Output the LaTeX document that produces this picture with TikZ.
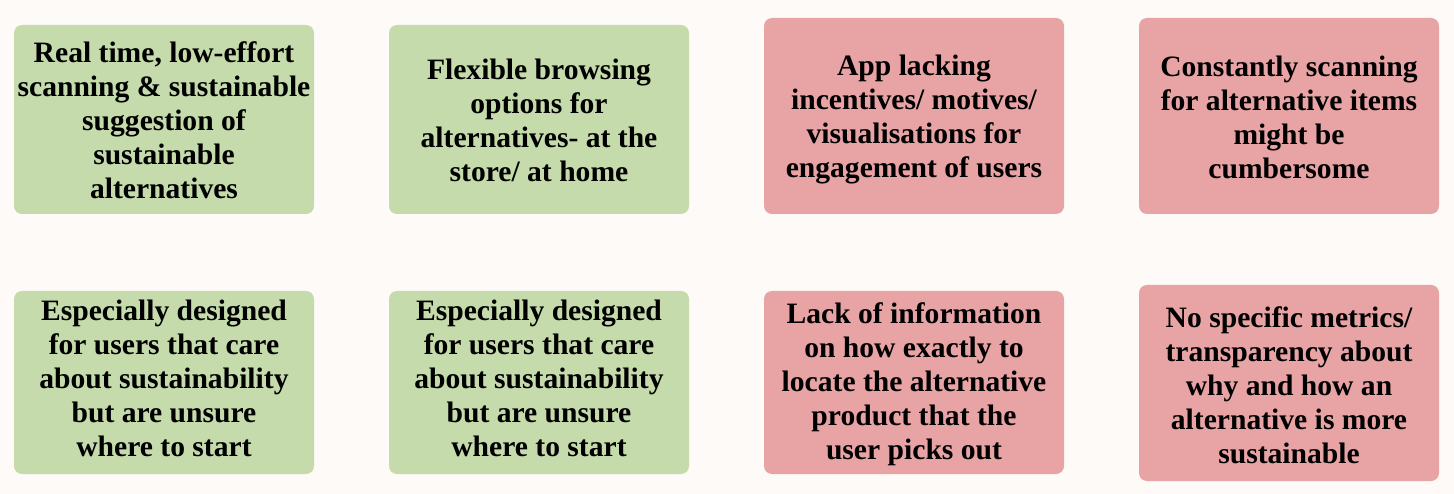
\documentclass[tikz,border=0pt]{standalone}
\usepackage{fontspec}
\setmainfont{Liberation Serif}
\definecolor{pagebg}{HTML}{FEFAF8}
\definecolor{prosfill}{HTML}{C5DBAB}
\definecolor{consfill}{HTML}{E8A3A5}
\tikzset{
  card/.style={rounded corners=8pt, inner sep=0pt, minimum width=300pt},
  pro/.style={card, fill=prosfill},
  con/.style={card, fill=consfill},
  cardtext/.style={inner sep=0pt, align=center, text=black,
    font=\fontsize{29.6}{34}\selectfont\bfseries},
}
\begin{document}
\begin{tikzpicture}[x=1pt, y=-1pt]
  \fill[pagebg] (0,0) rectangle (1454,494);
  % top row of cards
  \node[pro, minimum height=189pt] (p1) at (164,119.5) {};
  \node[pro, minimum height=189pt] (p2) at (539,119.5) {};
  \node[con, minimum height=196pt] (c1) at (914,116) {};
  \node[con, minimum height=196pt] (c2) at (1289,116) {};
  % bottom row of cards
  \node[pro, minimum height=183pt] (p3) at (164,382.5) {};
  \node[pro, minimum height=183pt] (p4) at (539,382.5) {};
  \node[con, minimum height=183pt] (c3) at (914,382.5) {};
  \node[con, minimum height=196pt] (c4) at (1289,383) {};
  % card texts
  \node[cardtext] (p1t) at ([yshift=-1pt]p1.center)
    {Real time, low-effort\\scanning \& sustainable\\suggestion of\\sustainable\\alternatives};
  \node[cardtext] (p2t) at ([yshift=-1pt]p2.center)
    {Flexible browsing\\options for\\alternatives- at the\\store/ at home};
  \node[cardtext] (c1t) at ([yshift=-3pt]c1.center)
    {App lacking\\incentives/ motives/\\visualisations for\\engagement of users};
  \node[cardtext] (c2t) at ([yshift=-1pt]c2.center)
    {Constantly scanning\\for alternative items\\might be\\cumbersome};
  \node[cardtext] (p3t) at ([yshift=4pt]p3.center)
    {Especially designed\\for users that care\\about sustainability\\but are unsure\\where to start};
  \node[cardtext] (p4t) at ([yshift=4pt]p4.center)
    {Especially designed\\for users that care\\about sustainability\\but are unsure\\where to start};
  \node[cardtext] (c3t) at ([yshift=-2pt]c3.center)
    {Lack of information\\on how exactly to\\locate the alternative\\product that the\\user picks out};
  \node[cardtext] (c4t) at ([yshift=-2pt]c4.center)
    {No specific metrics/\\transparency about\\why and how an\\alternative is more\\sustainable};
\end{tikzpicture}
\end{document}
